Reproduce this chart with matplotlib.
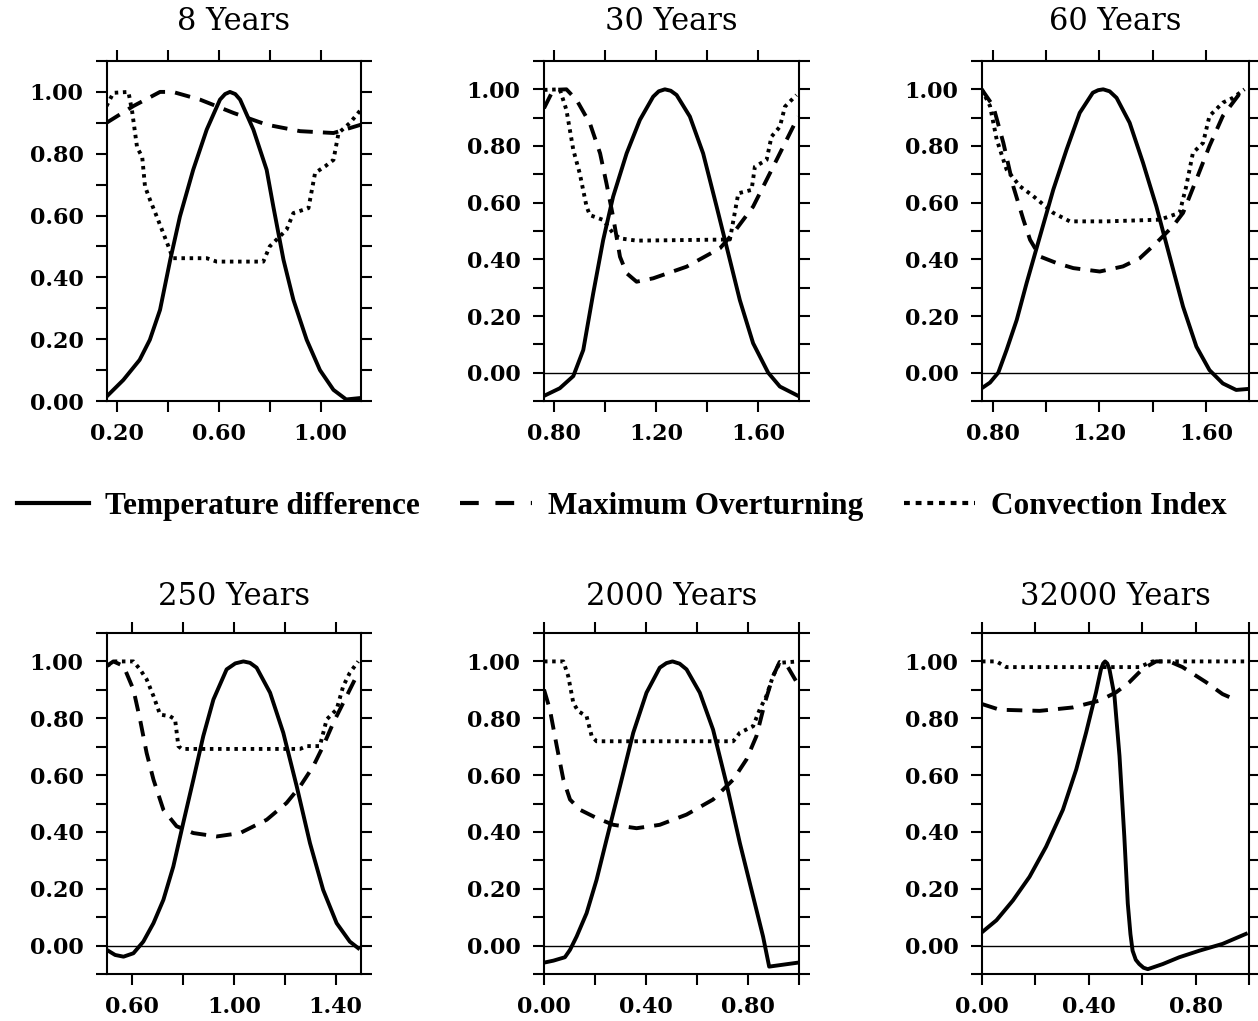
import matplotlib
matplotlib.use('Agg')
import matplotlib.pyplot as plt
from matplotlib.lines import Line2D
import numpy as np

# ---- data ----
titles = ['8 Years', '30 Years', '60 Years', '250 Years', '2000 Years', '32000 Years']

# 8 years
x8_t = [0.16, 0.226, 0.29, 0.33, 0.37, 0.41, 0.448, 0.50, 0.553, 0.605, 0.625, 0.644, 0.665, 0.684,
        0.736, 0.788, 0.814, 0.854, 0.893, 0.945, 0.997, 1.05, 1.10, 1.148]
y8_t = [0.014, 0.068, 0.133, 0.198, 0.295, 0.457, 0.597, 0.748, 0.878, 0.975, 0.993, 1.0, 0.993, 0.975,
        0.878, 0.748, 0.63, 0.457, 0.327, 0.198, 0.10, 0.036, 0.005, 0.009]
x8_m = [0.16, 0.265, 0.37, 0.42, 0.527, 0.658, 0.788, 0.919, 1.05, 1.158]
y8_m = [0.90, 0.954, 1.0, 1.0, 0.975, 0.932, 0.894, 0.873, 0.867, 0.894]
x8_c = [0.16, 0.187, 0.246, 0.26, 0.28, 0.30, 0.311, 0.331, 0.357, 0.403, 0.42, 0.553, 0.592, 0.775,
        0.80, 0.866, 0.893, 0.952, 0.978, 1.017, 1.05, 1.07, 1.115, 1.158]
y8_c = [0.954, 0.997, 1.0, 0.94, 0.82, 0.79, 0.694, 0.65, 0.597, 0.50, 0.462, 0.462, 0.451, 0.451,
        0.50, 0.554, 0.608, 0.624, 0.738, 0.759, 0.78, 0.867, 0.90, 0.943]

# 30 years
x30_t = [0.76, 0.822, 0.875, 0.914, 0.953, 0.992, 1.031, 1.084, 1.136, 1.188, 1.21, 1.234, 1.257,
         1.28, 1.332, 1.384, 1.437, 1.476, 1.528, 1.58, 1.639, 1.685, 1.757]
y30_t = [-0.082, -0.055, -0.012, 0.08, 0.28, 0.468, 0.621, 0.774, 0.892, 0.974, 0.993, 1.0, 0.995,
         0.98, 0.904, 0.774, 0.586, 0.445, 0.256, 0.104, 0.0, -0.049, -0.082]
x30_m = [0.76, 0.796, 0.848, 0.888, 0.94, 0.98, 1.005, 1.031, 1.058, 1.084, 1.123, 1.188, 1.319,
         1.45, 1.502, 1.58, 1.646, 1.711, 1.757]
y30_m = [0.933, 0.998, 1.0, 0.962, 0.88, 0.774, 0.668, 0.55, 0.409, 0.351, 0.321, 0.333, 0.374,
         0.439, 0.492, 0.586, 0.704, 0.821, 0.904]
x30_c = [0.76, 0.822, 0.848, 0.875, 0.90, 0.927, 0.94, 0.992, 1.031, 1.058, 1.123, 1.489, 1.522,
         1.574, 1.587, 1.633, 1.652, 1.685, 1.705, 1.75]
y30_c = [0.998, 1.0, 0.927, 0.786, 0.704, 0.586, 0.556, 0.539, 0.492, 0.474, 0.466, 0.47, 0.633,
         0.645, 0.727, 0.751, 0.833, 0.868, 0.939, 0.98]

# 60 years
x60_t = [0.759, 0.79, 0.821, 0.852, 0.89, 0.927, 0.977, 1.027, 1.077, 1.126, 1.175, 1.195, 1.214,
         1.238, 1.264, 1.313, 1.363, 1.413, 1.463, 1.513, 1.563, 1.612, 1.662, 1.712, 1.75]
y60_t = [-0.055, -0.035, 0.0, 0.08, 0.186, 0.316, 0.481, 0.646, 0.788, 0.917, 0.988, 0.997, 1.0,
         0.993, 0.97, 0.882, 0.741, 0.587, 0.41, 0.233, 0.092, 0.009, -0.038, -0.061, -0.058]
x60_m = [0.759, 0.802, 0.84, 0.877, 0.915, 0.94, 0.977, 1.039, 1.102, 1.201, 1.288, 1.351, 1.413,
         1.475, 1.513, 1.563, 1.612, 1.662, 1.737]
y60_m = [1.0, 0.941, 0.811, 0.658, 0.54, 0.469, 0.41, 0.387, 0.369, 0.357, 0.375, 0.404, 0.458,
         0.517, 0.564, 0.682, 0.80, 0.906, 1.0]
x60_c = [0.759, 0.79, 0.815, 0.852, 0.902, 0.952, 1.027, 1.089, 1.226, 1.426, 1.50, 1.525, 1.55,
         1.588, 1.612, 1.662, 1.70, 1.743]
y60_c = [1.0, 0.941, 0.823, 0.717, 0.658, 0.623, 0.564, 0.534, 0.534, 0.54, 0.564, 0.658, 0.776,
         0.811, 0.906, 0.953, 0.97, 1.0]

# 250 years
x250_t = [0.499, 0.532, 0.565, 0.604, 0.643, 0.683, 0.722, 0.761, 0.80, 0.84, 0.879, 0.919, 0.971,
          1.005, 1.037, 1.063, 1.089, 1.142, 1.194, 1.247, 1.299, 1.351, 1.404, 1.456, 1.489]
y250_t = [-0.015, -0.033, -0.039, -0.027, 0.014, 0.079, 0.161, 0.278, 0.431, 0.584, 0.737, 0.866,
          0.972, 0.993, 1.0, 0.995, 0.978, 0.89, 0.749, 0.56, 0.361, 0.196, 0.079, 0.014, -0.009]
x250_m = [0.499, 0.525, 0.565, 0.604, 0.63, 0.656, 0.683, 0.722, 0.774, 0.84, 0.932, 1.024, 1.129,
          1.207, 1.26, 1.312, 1.351, 1.391, 1.43, 1.489]
y250_m = [0.984, 1.0, 0.984, 0.901, 0.796, 0.678, 0.584, 0.478, 0.42, 0.396, 0.384, 0.396, 0.443,
          0.502, 0.56, 0.631, 0.702, 0.784, 0.854, 0.96]
x250_c = [0.499, 0.532, 0.604, 0.63, 0.656, 0.683, 0.709, 0.748, 0.768, 0.781, 0.794, 1.26, 1.286,
          1.338, 1.365, 1.404, 1.43, 1.456, 1.489]
y250_c = [0.984, 1.0, 1.0, 0.972, 0.937, 0.878, 0.813, 0.807, 0.796, 0.702, 0.692, 0.692, 0.702,
          0.702, 0.796, 0.831, 0.913, 0.96, 1.0]

# 2000 years
x2k_t = [0.0, 0.037, 0.082, 0.102, 0.128, 0.167, 0.206, 0.245, 0.298, 0.35, 0.402, 0.454, 0.48,
         0.504, 0.532, 0.559, 0.611, 0.663, 0.715, 0.768, 0.82, 0.859, 0.883, 0.996]
y2k_t = [-0.06, -0.053, -0.041, -0.015, 0.032, 0.114, 0.231, 0.372, 0.561, 0.749, 0.89, 0.978, 0.994,
         1.0, 0.992, 0.972, 0.89, 0.76, 0.572, 0.361, 0.173, 0.032, -0.074, -0.06]
x2k_m = [0.0, 0.023, 0.05, 0.076, 0.102, 0.141, 0.206, 0.272, 0.363, 0.454, 0.559, 0.663, 0.742,
         0.794, 0.833, 0.866, 0.898, 0.924, 0.95, 0.996]
y2k_m = [0.901, 0.831, 0.702, 0.584, 0.514, 0.478, 0.449, 0.425, 0.413, 0.425, 0.461, 0.514, 0.584,
         0.655, 0.737, 0.854, 0.948, 0.998, 0.99, 0.919]
x2k_c = [0.0, 0.076, 0.095, 0.115, 0.134, 0.167, 0.187, 0.206, 0.742, 0.768, 0.82, 0.846, 0.872,
         0.898, 0.924, 0.996]
y2k_c = [1.0, 1.0, 0.948, 0.854, 0.825, 0.807, 0.737, 0.719, 0.719, 0.749, 0.772, 0.831, 0.878,
         0.948, 0.995, 1.0]

# 32000 years
x32k_t = [0.0, 0.054, 0.116, 0.178, 0.24, 0.303, 0.353, 0.39, 0.427, 0.446, 0.454, 0.461, 0.469,
          0.477, 0.496, 0.515, 0.533, 0.546, 0.556, 0.564, 0.576, 0.589, 0.605, 0.621, 0.677, 0.739,
          0.814, 0.901, 0.988]
y32k_t = [0.047, 0.089, 0.159, 0.242, 0.348, 0.478, 0.62, 0.75, 0.891, 0.974, 0.993, 1.0, 0.993,
          0.974, 0.88, 0.667, 0.384, 0.148, 0.04, -0.018, -0.05, -0.065, -0.078, -0.083, -0.065,
          -0.041, -0.018, 0.006, 0.041]
x32k_m = [0.0, 0.066, 0.216, 0.34, 0.44, 0.502, 0.552, 0.602, 0.652, 0.702, 0.751, 0.839, 0.901,
          0.957]
y32k_m = [0.85, 0.83, 0.826, 0.838, 0.862, 0.891, 0.927, 0.974, 1.0, 1.0, 0.98, 0.927, 0.885, 0.862]
x32k_c = [0.0, 0.054, 0.091, 0.589, 0.639, 0.997]
y32k_c = [1.0, 1.0, 0.98, 0.98, 1.0, 1.0]

temp_x = [x8_t, x30_t, x60_t, x250_t, x2k_t, x32k_t]
temp_y = [y8_t, y30_t, y60_t, y250_t, y2k_t, y32k_t]
over_x = [x8_m, x30_m, x60_m, x250_m, x2k_m, x32k_m]
over_y = [y8_m, y30_m, y60_m, y250_m, y2k_m, y32k_m]
conv_x = [x8_c, x30_c, x60_c, x250_c, x2k_c, x32k_c]
conv_y = [y8_c, y30_c, y60_c, y250_c, y2k_c, y32k_c]

xlims = [(0.162, 1.158), (0.76, 1.76), (0.76, 1.76), (0.5, 1.5), (0.0, 1.0), (0.0, 1.0)]
xticks = [[0.2, 0.4, 0.6, 0.8, 1.0], [0.8, 1.0, 1.2, 1.4, 1.6], [0.8, 1.0, 1.2, 1.4, 1.6],
          [0.6, 0.8, 1.0, 1.2, 1.4], [0.0, 0.2, 0.4, 0.6, 0.8, 1.0], [0.0, 0.2, 0.4, 0.6, 0.8, 1.0]]
xlabeled = [[0.2, 0.6, 1.0], [0.8, 1.2, 1.6], [0.8, 1.2, 1.6], [0.6, 1.0, 1.4],
            [0.0, 0.4, 0.8], [0.0, 0.4, 0.8]]

# ---- layout (pixels of a 1258x1021 figure) ----
W, H = 1258, 1021
fig = plt.figure(figsize=(W / 100, H / 100), dpi=100)
cols = [(107, 254), (544, 255), (982, 267)]
rows = [(61, 401), (633, 974)]

tick_font = dict(family='DejaVu Serif', weight='bold', size=16)

for i in range(6):
    r, c = divmod(i, 3)
    left, width = cols[c]
    top, bottom = rows[r]
    ax = fig.add_axes([left / W, 1 - bottom / H, width / W, (bottom - top) / H])

    ax.plot(temp_x[i], temp_y[i], color='k', lw=2.8, solid_joinstyle='round')
    ax.plot(over_x[i], over_y[i], color='k', lw=2.8, linestyle=(0, (4.0, 2.6)))
    ax.plot(conv_x[i], conv_y[i], color='k', lw=2.8, linestyle=(0, (0.9, 1.2)))

    ymin = 0.0 if i == 0 else -0.1
    if i > 0:
        ax.axhline(0, color='k', lw=1.0)
    ax.set_xlim(*xlims[i])
    ax.set_ylim(ymin, 1.1)

    yt = np.round(np.arange(ymin, 1.1001, 0.1), 2)
    ax.set_yticks(yt)
    ax.set_yticklabels(['%.2f' % v if abs(round(v * 10)) % 2 == 0 else '' for v in yt], **tick_font)
    ax.set_xticks(xticks[i])
    ax.set_xticklabels(['%.2f' % v if v in xlabeled[i] else '' for v in xticks[i]], **tick_font)

    ax.tick_params(direction='out', length=8, width=1.5, top=True, right=True, color='k')
    ax.tick_params(axis='y', pad=9)
    ax.tick_params(axis='x', pad=8)
    for s in ax.spines.values():
        s.set_linewidth(1.5)

    fig.text((left + width / 2) / W, 1 - (21 if r == 0 else 596) / H, titles[i],
             ha='center', va='center', family='DejaVu Serif', size=22)

handles = [Line2D([], [], color='k', lw=3),
           Line2D([], [], color='k', lw=3, linestyle=(0, (4.5, 4))),
           Line2D([], [], color='k', lw=3, linestyle=(0, (1.4, 1.4)))]
fig.legend(handles, ['Temperature difference', 'Maximum Overturning', 'Convection Index'],
           loc='center', bbox_to_anchor=(622 / W, 1 - 506 / H), ncol=3, frameon=False,
           handlelength=2.3, handletextpad=0.5, columnspacing=1.3,
           prop=dict(family='Liberation Serif', weight='bold', size=22.5))

fig.savefig('out.png', dpi=100)
